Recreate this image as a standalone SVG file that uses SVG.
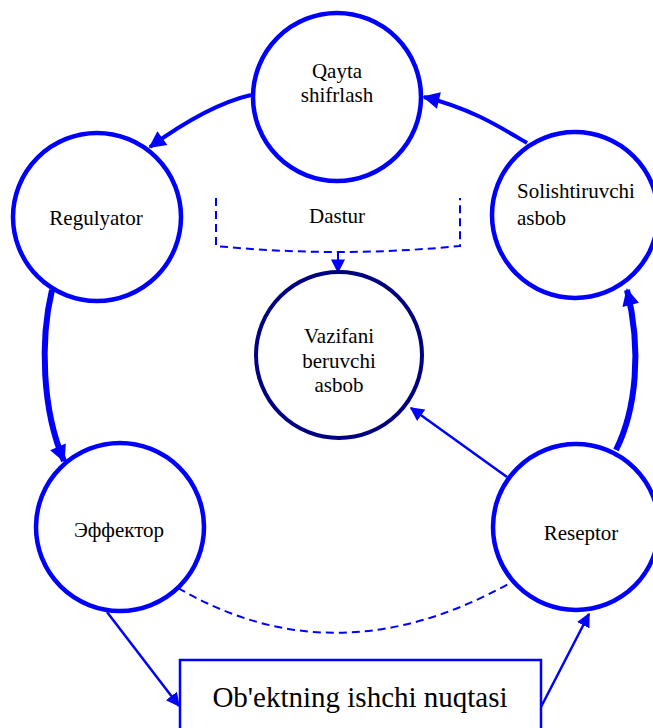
<svg xmlns="http://www.w3.org/2000/svg" width="653" height="728" viewBox="0 0 653 728">
<defs>
<style>
.node{fill:#fff;stroke:#0000ff;stroke-width:4.5}
.navy{fill:#fff;stroke:#000080;stroke-width:4}
.t{font-family:"Liberation Serif","Times New Roman",serif;font-size:21px;fill:#000;text-anchor:middle}
.big{font-size:29px}
.c{fill:none;stroke:#0000ff}
.dash{stroke-dasharray:8,5;stroke-width:2}
</style>
<marker id="ah" viewBox="0 0 10 10" refX="9" refY="5" markerWidth="14" markerHeight="14" markerUnits="userSpaceOnUse" orient="auto"><path d="M0,0 L10,5 L0,10 z" fill="#0000ff"/></marker>
<marker id="ahb" viewBox="0 0 10 10" refX="9" refY="5" markerWidth="19" markerHeight="17" markerUnits="userSpaceOnUse" orient="auto"><path d="M0,0 L10,5 L0,10 z" fill="#0000ff"/></marker>
</defs>
<rect width="653" height="728" fill="#fff"/>
<g id="connectors">
<path class="c" d="M251,95 C225,101 190,118 150,147" stroke-width="4" marker-end="url(#ahb)"/>
<path class="c" d="M527,143 C500,127 470,108 424,97" stroke-width="4" marker-end="url(#ahb)"/>
<path class="c" d="M52,290 C40,340 42,410 64,461" stroke-width="6" marker-end="url(#ahb)"/>
<path class="c" d="M616,450 C636,410 642,350 627,290" stroke-width="6" marker-end="url(#ahb)"/>
<path class="c" d="M507,477 L411,408" stroke-width="2.5" marker-end="url(#ah)"/>
<path class="c" d="M107,612 L179,706" stroke-width="2.5" marker-end="url(#ah)"/>
<path class="c" d="M541,707 L589,614" stroke-width="2.5" marker-end="url(#ah)"/>
<path class="c dash" d="M178,588 Q336,680 510,583"/>
<path class="c dash" d="M216,198 L216,246 Q338,258 460,246 L460,198"/>
<path class="c dash" d="M338,252 L338,272" marker-end="url(#ah)"/>
</g>
<g id="qayta"><circle class="node" cx="337" cy="97" r="84"/><text class="t" x="337" y="78">Qayta</text><text class="t" x="337" y="102">shifrlash</text></g>
<g id="regulyator"><circle class="node" cx="97" cy="217" r="84"/><text class="t" x="96" y="225">Regulyator</text></g>
<g id="solishtiruvchi"><circle class="node" cx="575" cy="215" r="83"/><text class="t" x="517" y="198" text-anchor="start" style="text-anchor:start">Solishtiruvchi</text><text class="t" x="517" y="225" style="text-anchor:start">asbob</text></g>
<g id="dastur"><text class="t" x="337" y="223">Dastur</text></g>
<g id="vazifani"><circle class="navy" cx="339" cy="355" r="83"/><text class="t" x="339" y="343">Vazifani</text><text class="t" x="339" y="368">beruvchi</text><text class="t" x="339" y="392">asbob</text></g>
<g id="effektor"><circle class="node" cx="120" cy="527" r="84"/><text class="t" x="119" y="537">Эффектор</text></g>
<g id="reseptor"><circle class="node" cx="576" cy="527" r="83"/><text class="t" x="581" y="540">Reseptor</text></g>
<g id="obekt"><rect x="180" y="660" width="361" height="80" fill="#fff" stroke="#0000ff" stroke-width="2.5"/><text class="t big" x="360" y="707">Ob'ektning ishchi nuqtasi</text></g>
</svg>
